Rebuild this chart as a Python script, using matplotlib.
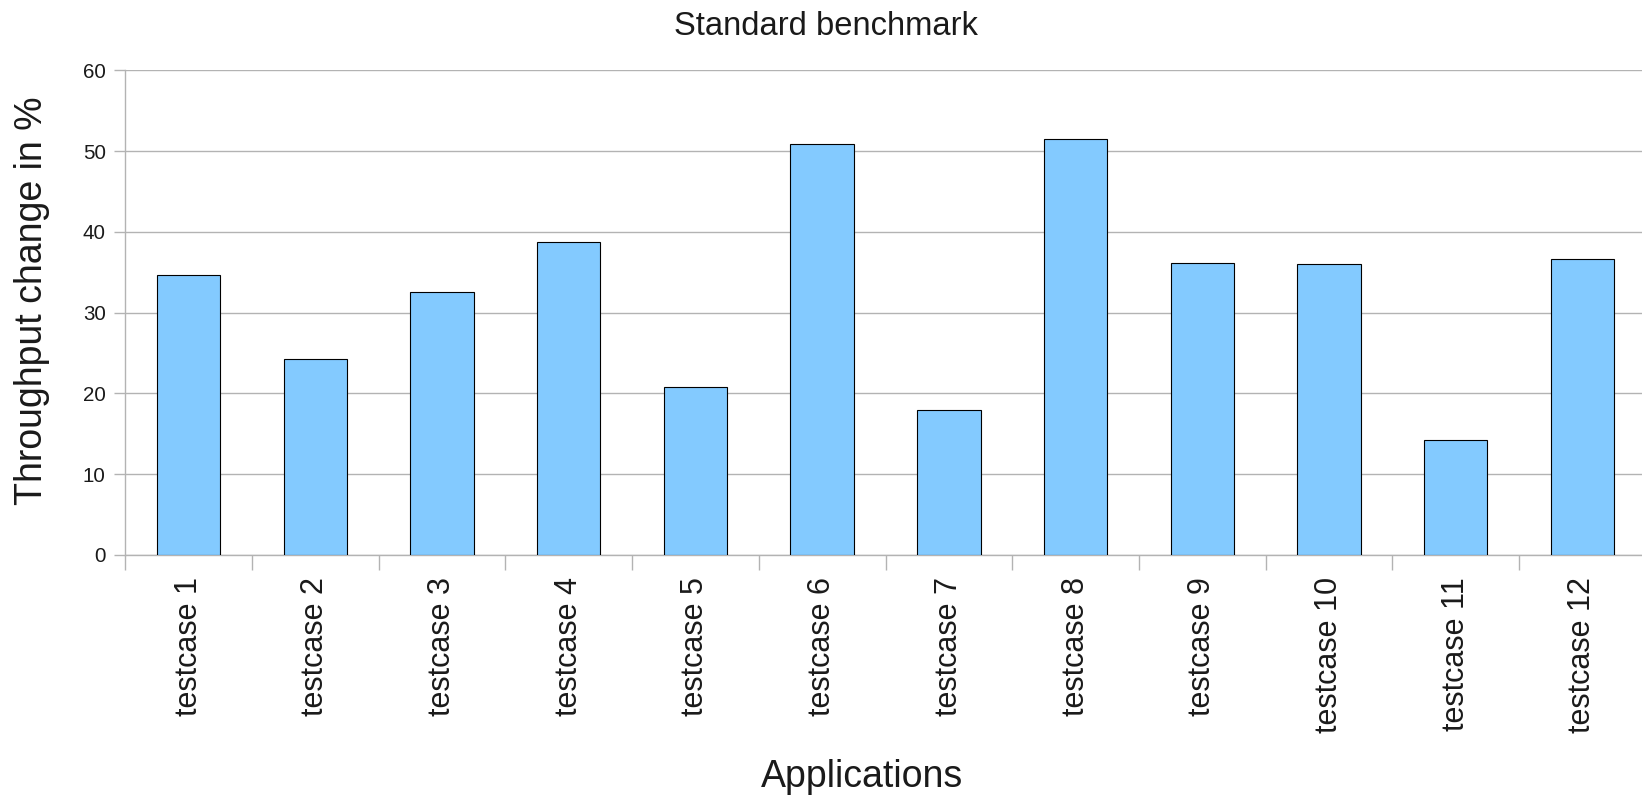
import matplotlib
matplotlib.use("Agg")
from matplotlib import pyplot as plt
import numpy as np

# chart data
categories = ["testcase 1", "testcase 2", "testcase 3", "testcase 4", "testcase 5", "testcase 6",
              "testcase 7", "testcase 8", "testcase 9", "testcase 10", "testcase 11", "testcase 12"]
throughput_change = [34.6, 24.3, 32.5, 38.8, 20.8, 50.9, 17.9, 51.5, 36.1, 36.0, 14.2, 36.7]
y_ticks = [0, 10, 20, 30, 40, 50, 60]

plt.rcParams["font.family"] = ["Liberation Sans", "DejaVu Sans"]

fig = plt.figure(figsize=(16.42, 7.95), dpi=100)
ax = fig.add_axes([125.3 / 1642, 1 - 555 / 795, (1645.7 - 125.3) / 1642, (555 - 70.3) / 795])

x = np.arange(len(categories))
ax.bar(x, throughput_change, width=0.5, color="#83caff", edgecolor="black", linewidth=0.8, zorder=3)

ax.set_xlim(-0.5, len(categories) - 0.5)
ax.set_ylim(0, 60)

# gridlines and axes
ax.set_yticks(y_ticks)
ax.yaxis.grid(True, color="#b3b3b3", linewidth=1, zorder=0)
for side in ["top", "right"]:
    ax.spines[side].set_visible(False)
for side in ["left", "bottom"]:
    ax.spines[side].set_color("#b3b3b3")
    ax.spines[side].set_linewidth(1)

ax.tick_params(axis="y", length=8, width=1, color="#b3b3b3", labelsize=14.8, labelcolor="#1a1a1a", pad=6)

# category boundary ticks on x axis, labels centred on bars
ax.set_xticks(np.arange(len(categories) + 1) - 0.5)
ax.set_xticklabels([])
ax.set_xticks(x, minor=True)
ax.set_xticklabels(categories, minor=True, rotation=90, fontsize=22, color="#1a1a1a")
ax.tick_params(axis="x", which="major", length=11, width=1, color="#b3b3b3")
ax.tick_params(axis="x", which="minor", length=0, pad=16)

fig.text(0.503, 1 - 35 / 795, "Standard benchmark", ha="center", va="baseline", fontsize=23.6, color="#1a1a1a")
fig.text(862 / 1642, 0.010, "Applications", ha="center", va="baseline", fontsize=27, color="#1a1a1a")
fig.text(32 / 1642, 1 - 301 / 795, "Throughput change in %", ha="center", va="center",
         rotation=90, fontsize=27, color="#1a1a1a")

fig.savefig("out.png", dpi=100)
